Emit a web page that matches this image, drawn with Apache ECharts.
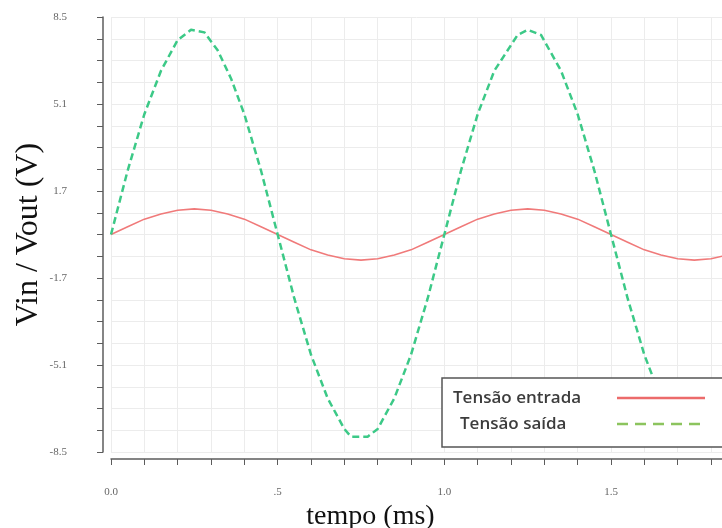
<!DOCTYPE html>
<html>
<head>
<meta charset="utf-8">
<script src="https://cdn.jsdelivr.net/npm/echarts@6/dist/echarts.min.js"></script>
<style>
  html, body { margin: 0; padding: 0; background: #fff; }
  #chart { width: 722px; height: 528px; }
</style>
</head>
<body>
<div id="chart"></div>
<script>
// ── Data ─────────────────────────────────────────────────────────────────────
const tIn  = [0, 0.05, 0.10, 0.15, 0.20, 0.25, 0.30, 0.35, 0.40, 0.45, 0.50,
              0.55, 0.60, 0.65, 0.70, 0.75, 0.80, 0.85, 0.90, 0.95, 1.00,
              1.05, 1.10, 1.15, 1.20, 1.25, 1.30, 1.35, 1.40, 1.45, 1.50,
              1.55, 1.60, 1.65, 1.70, 1.75, 1.80, 1.85, 1.90];
const vIn  = [0, 0.3, 0.6, 0.8, 0.95, 1.0, 0.95, 0.8, 0.6, 0.3, 0,
              -0.3, -0.6, -0.8, -0.95, -1.0, -0.95, -0.8, -0.6, -0.3, 0,
              0.3, 0.6, 0.8, 0.95, 1.0, 0.95, 0.8, 0.6, 0.3, 0,
              -0.3, -0.6, -0.8, -0.95, -1.0, -0.95, -0.8, -0.6];

const tOut = [0, 0.05, 0.10, 0.15, 0.20, 0.24, 0.28, 0.32, 0.36, 0.40, 0.45, 0.50,
              0.55, 0.60, 0.65, 0.70, 0.72, 0.77, 0.80, 0.85, 0.90, 0.95, 1.00,
              1.05, 1.10, 1.15, 1.22, 1.25, 1.29, 1.35, 1.40, 1.45, 1.50,
              1.55, 1.60, 1.65, 1.70, 1.75, 1.80, 1.85, 1.90];
const vOut = [0, 2.5, 4.7, 6.4, 7.6, 8.0, 7.9, 7.2, 6.1, 4.7, 2.5, 0,
              -2.5, -4.7, -6.4, -7.6, -7.9, -7.9, -7.6, -6.4, -4.7, -2.5, 0,
              2.5, 4.7, 6.4, 7.8, 8.0, 7.8, 6.4, 4.7, 2.5, 0,
              -2.5, -4.7, -6.4, -7.6, -8.0, -7.6, -6.4, -4.7];

const seriesNames = ['Tensão entrada', 'Tensão saída'];
const xLabelValues = [0, 0.5, 1.0, 1.5];
const xLabelTexts  = ['0.0', '.5', '1.0', '1.5'];
const yLabelValues = [-8.5, -5.1, -1.7, 1.7, 5.1, 8.5];
const yLabelTexts  = ['-8.5', '-5.1', '-1.7', '1.7', '5.1', '8.5'];

const axisColor = '#5c5c5c';
const gridColor = '#ececec';
const noSymbol = { color: 'rgba(0,0,0,0)', borderWidth: 0, opacity: 0 };

function pickLabel(values, texts, v) {
    for (let i = 0; i < values.length; i++) {
        if (Math.abs(values[i] - v) < 1e-6) return texts[i];
    }
    return '';
}

const chart = echarts.init(document.getElementById('chart'));

chart.setOption({
    backgroundColor: '#fff',
    animation: false,
    grid: { left: 111, top: 17, right: 0, height: 435, outerBoundsMode: 'none', containLabel: false },
    legend: {
        orient: 'vertical',
        left: 442, top: 378,
        align: 'right',
        itemWidth: 88, itemHeight: 14, itemGap: 8,
        padding: [11, 20, 14, 11],
        backgroundColor: '#fff',
        borderColor: '#555',
        borderWidth: 1.5,
        borderRadius: 0,
        itemStyle: noSymbol,
        data: [
            { name: seriesNames[0], itemStyle: noSymbol, lineStyle: { color: '#ec6b6b', width: 2.5 } },
            { name: seriesNames[1], itemStyle: noSymbol, lineStyle: { color: '#8cc45e', width: 2.5, type: [11, 7] } }
        ],
        formatter: (name) => name === seriesNames[1] ? '{b|' + name + '}' : '{a|' + name + '}',
        textStyle: {
            fontFamily: 'Open Sans', fontSize: 17, fontWeight: 600, color: '#3c3c3c', lineHeight: 18,
            rich: {
                a: { width: 159, align: 'left', fontFamily: 'Open Sans', fontSize: 17, fontWeight: 600, color: '#3c3c3c', lineHeight: 18 },
                b: { width: 152, align: 'left', fontFamily: 'Open Sans', fontSize: 17, fontWeight: 600, color: '#3c3c3c', lineHeight: 18 }
            }
        }
    },
    xAxis: {
        type: 'value',
        min: 0, max: 1.833, interval: 0.1,
        offset: 7,
        name: 'tempo (ms)',
        nameLocation: 'middle',
        nameGap: 34,
        nameTextStyle: {
            fontFamily: 'Liberation Serif', fontSize: 28, color: '#111',
            padding: [0, 92, 0, 0]
        },
        axisLine: { show: true, onZero: false, lineStyle: { color: axisColor, width: 1.5 } },
        axisTick: { show: true, length: 6, lineStyle: { color: axisColor } },
        axisLabel: {
            margin: 28,
            color: '#666',
            fontFamily: 'Liberation Serif', fontSize: 11,
            showMaxLabel: false,
            formatter: (v) => pickLabel(xLabelValues, xLabelTexts, v)
        },
        splitLine: { show: true, lineStyle: { color: gridColor } }
    },
    yAxis: {
        type: 'value',
        min: -8.5, max: 8.5, interval: 0.85,
        offset: 8,
        name: 'Vin / Vout (V)',
        nameLocation: 'middle',
        nameGap: 58,
        nameMoveOverlap: false,
        nameTextStyle: { fontFamily: 'Liberation Serif', fontSize: 32, color: '#111' },
        axisLine: { show: true, onZero: false, lineStyle: { color: axisColor, width: 1.5 } },
        axisTick: { show: true, length: 6, lineStyle: { color: axisColor } },
        axisLabel: {
            margin: 36,
            color: '#666',
            fontFamily: 'Liberation Serif', fontSize: 11,
            showMinLabel: true, showMaxLabel: true,
            formatter: (v) => pickLabel(yLabelValues, yLabelTexts, v)
        },
        splitLine: { show: true, lineStyle: { color: gridColor } }
    },
    series: [
        {
            name: seriesNames[0],
            type: 'line',
            symbol: 'none',
            data: tIn.map((t, i) => [t, vIn[i]]),
            lineStyle: { color: '#f07a7a', width: 1.6 },
            itemStyle: { color: '#f07a7a' }
        },
        {
            name: seriesNames[1],
            type: 'line',
            symbol: 'none',
            data: tOut.map((t, i) => [t, vOut[i]]),
            lineStyle: { color: '#3cc987', width: 2.5, type: [7, 4] },
            itemStyle: { color: '#3cc987' }
        }
    ]
});
</script>
</body>
</html>
